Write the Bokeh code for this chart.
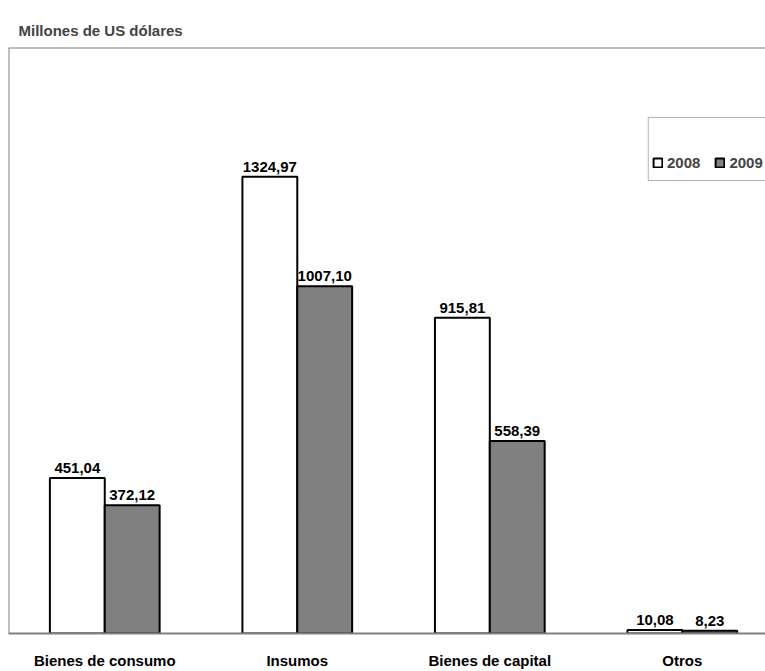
from bokeh.plotting import figure
from bokeh.models import ColumnDataSource, Range1d, Legend, LegendItem, BoxAnnotation, Span
from bokeh.core.properties import value
from bokeh.embed import file_html
from bokeh.resources import INLINE

categories = ["Bienes de consumo", "Insumos", "Bienes de capital", "Otros"]
values_2008 = [451.04, 1324.97, 915.81, 10.08]
values_2009 = [372.12, 1007.10, 558.39, 8.23]
labels_2008 = ["451,04", "1324,97", "915,81", "10,08"]
labels_2009 = ["372,12", "1007,10", "558,39", "8,23"]
series_names = ["2008", "2009"]

FONT = "Liberation Sans"
BAR_W = 0.285

centers = [i + 0.5 for i in range(len(categories))]
x08 = [c - BAR_W / 2 for c in centers]
x09 = [c + BAR_W / 2 for c in centers]

src08 = ColumnDataSource(dict(x=x08, top=values_2008, lab=labels_2008))
src09 = ColumnDataSource(dict(x=x09, top=values_2009, lab=labels_2009))

p = figure(width=765, height=671, output_backend="svg", toolbar_location=None,
           x_range=Range1d(0, 3.932), y_range=Range1d(0, 1700),
           y_axis_type=None, min_border_left=8, min_border_right=0,
           min_border_top=47, min_border_bottom=38)
p.title.text = "Millones de US dólares"
p.title.text_font = FONT
p.title.text_font_size = "15px"
p.title.text_font_style = "bold"
p.title.align = "left"
p.title.offset = 10
p.title.standoff = 18

p.outline_line_color = None
p.grid.visible = False
p.background_fill_color = "white"

r08 = p.vbar(x="x", top="top", width=BAR_W, source=src08, fill_color="white",
             line_color="black", line_width=2)
r09 = p.vbar(x="x", top="top", width=BAR_W, source=src09, fill_color="#808080",
             line_color="black", line_width=2)

for src in (src08, src09):
    p.text(x="x", y="top", text="lab", source=src, text_align="center",
           text_baseline="bottom", y_offset=-5, text_font=value(FONT),
           text_font_size="15px", text_font_style="bold", text_color="black")

# frame borders (left, top)
p.add_layout(Span(location=0, dimension="height", line_color="#808080", line_width=2))
p.add_layout(Span(location=1700, dimension="width", line_color="#808080", line_width=2))

ax = p.xaxis[0]
ax.ticker = centers
ax.major_label_overrides = {c: n for c, n in zip(centers, categories)}
ax.major_tick_line_color = None
ax.minor_tick_line_color = None
ax.axis_line_color = "#808080"
ax.axis_line_width = 2
ax.major_label_standoff = 12
ax.major_label_text_font = FONT
ax.major_label_text_font_size = "15px"
ax.major_label_text_font_style = "bold"
ax.major_label_text_color = "black"

box = BoxAnnotation(left=3.323, right=5, top=1497, bottom=1314,
                    fill_color="white", fill_alpha=1, line_color="black", line_width=1)
p.add_layout(box)

legend = Legend(items=[LegendItem(label=series_names[0], renderers=[r08]),
                       LegendItem(label=series_names[1], renderers=[r09])],
                orientation="horizontal", location=(644, 462),
                border_line_color=None, background_fill_alpha=0,
                padding=0, margin=0, spacing=14, label_standoff=4,
                glyph_width=11, glyph_height=11,
                label_text_font=FONT, label_text_font_size="15px",
                label_text_font_style="bold")
p.add_layout(legend)

open("out.html", "w").write(file_html(p, INLINE))
